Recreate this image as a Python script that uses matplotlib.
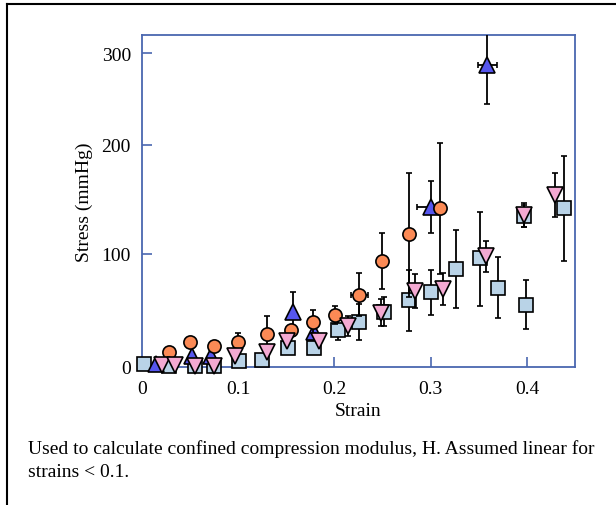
import numpy as np
import matplotlib
matplotlib.use("Agg")
import matplotlib.pyplot as plt
from matplotlib.lines import Line2D

plt.rcParams['font.family'] = ['Liberation Serif', 'DejaVu Serif']

# ---- data ----
circle_x = [0.028, 0.050, 0.075, 0.100, 0.130, 0.155, 0.178, 0.201, 0.226, 0.249, 0.277, 0.310]
circle_y = [13, 22, 19, 22, 29, 33, 40, 46, 64, 94, 118, 142]
circle_yerr = [0, 0, 0, 8, 16, 0, 10, 8, 19, 25, 56, 60]
circle_xerr = [0, 0, 0, 0, 0, 0, 0, 0, 0.009, 0, 0, 0]

up_x = [0.015, 0.052, 0.072, 0.157, 0.179, 0.300, 0.359]
up_y = [2.5, 9.5, 10, 49, 31, 143, 287]
up_yerr = [0, 0, 0, 17, 0, 24, 42]
up_xerr = [0, 0, 0, 0, 0, 0.014, 0.010]

down_x = [0.021, 0.034, 0.055, 0.075, 0.097, 0.130, 0.151, 0.184, 0.214, 0.248,
          0.284, 0.313, 0.357, 0.397, 0.429]
down_y = [2, 2, 1, 1, 9.5, 13, 23, 23, 36, 48, 67, 69, 98, 136, 154]
down_yerr = [0, 0, 0, 0, 0, 0, 0, 0, 9, 12, 15, 14, 14, 11, 20]

sq_x = [0.002, 0.028, 0.055, 0.075, 0.101, 0.125, 0.152, 0.179, 0.204, 0.226,
        0.252, 0.277, 0.300, 0.326, 0.351, 0.370, 0.397, 0.399, 0.439]
sq_y = [3, 1, 1, 1, 5.5, 6, 17, 17, 33, 40, 49, 59, 66, 87, 96, 70, 135, 55, 142]
sq_yerr = [0, 0, 0, 0, 0, 0, 0, 0, 9, 16, 12.5, 27, 20, 35, 42, 27, 10, 21.5, 48]

x_ticks = [0, 0.1, 0.2, 0.3, 0.4]
x_ticklabels = ['0', '0.1', '0.2', '0.3', '0.4']
y_ticks = [0, 100, 200, 300]
y_ticklabels = ['0', '100', '200', '300']

caption = ("Used to calculate confined compression modulus, H. Assumed linear for\n"
           "strains < 0.1.")

# ---- the reference's stress axis is not evenly spaced: reproduce with a scale ----
_yv = np.array([-100.0, 0.0, 100.0, 200.0, 300.0, 500.0])
_pv = np.array([-113.0, 0.0, 113.0, 222.0, 313.7, 497.0])
def _fwd(v):
    return np.interp(v, _yv, _pv)
def _inv(p):
    return np.interp(p, _pv, _yv)

fig = plt.figure(figsize=(6.16, 5.06), dpi=100)
ax = fig.add_axes([142 / 616, (506 - 368) / 506, (575 - 142) / 616, (368 - 35.7) / 506])
ax.set_yscale('function', functions=(_fwd, _inv))

spine_col = '#4a67b0'
ekw = dict(ecolor='black', elinewidth=1.3, capsize=2, capthick=1.5, linestyle='none',
           markeredgecolor='black', markeredgewidth=1.2)

conts = []
conts.append(ax.errorbar(sq_x, sq_y, yerr=sq_yerr, fmt='s', markersize=9.5,
                         markerfacecolor='#b9d3e7', zorder=2, **ekw))
conts.append(ax.errorbar(up_x, up_y, yerr=up_yerr, xerr=up_xerr, fmt='^', markersize=11,
                         markerfacecolor='#5656ee', zorder=3, **ekw))
conts.append(ax.errorbar(circle_x, circle_y, yerr=circle_yerr, xerr=circle_xerr, fmt='o',
                         markersize=9.5, markerfacecolor='#fb8a55', zorder=4, **ekw))
conts.append(ax.errorbar(down_x, down_y, yerr=down_yerr, fmt='v', markersize=11,
                         markerfacecolor='#f3a9d2', zorder=5, **ekw))
for c in conts:
    c[0].set_clip_on(False)

ax.set_xlim(0, 0.45)
ax.set_ylim(0, 320)
ax.set_xticks(x_ticks)
ax.set_xticklabels(x_ticklabels)
ax.set_yticks(y_ticks)
ax.set_yticklabels(y_ticklabels)
ax.minorticks_off()
ax.tick_params(direction='in', length=7, width=1.2, color=spine_col, labelsize=14,
               labelcolor='black')
ax.tick_params(axis='y', pad=8)
ax.tick_params(axis='x', pad=9)
for s in ax.spines.values():
    s.set_color(spine_col)
    s.set_linewidth(1.3)
    s.set_zorder(1)

ax.set_xlabel('Strain', fontsize=14, labelpad=4)
ax.set_ylabel('Stress (mmHg)', fontsize=14, labelpad=6)

fig.text(28 / 616, 1 - 440 / 506, caption, fontsize=14, ha='left', va='top',
         linespacing=1.45)

# outer frame of the figure (top and left edges visible in the reference)
fig.add_artist(Line2D([7 / 616, 1.0], [1 - 4.5 / 506, 1 - 4.5 / 506],
                      transform=fig.transFigure, color='black', linewidth=1.5))
fig.add_artist(Line2D([7 / 616, 7 / 616], [0.0, 1 - 4.5 / 506],
                      transform=fig.transFigure, color='black', linewidth=1.5))

fig.savefig('out.png', dpi=100)
